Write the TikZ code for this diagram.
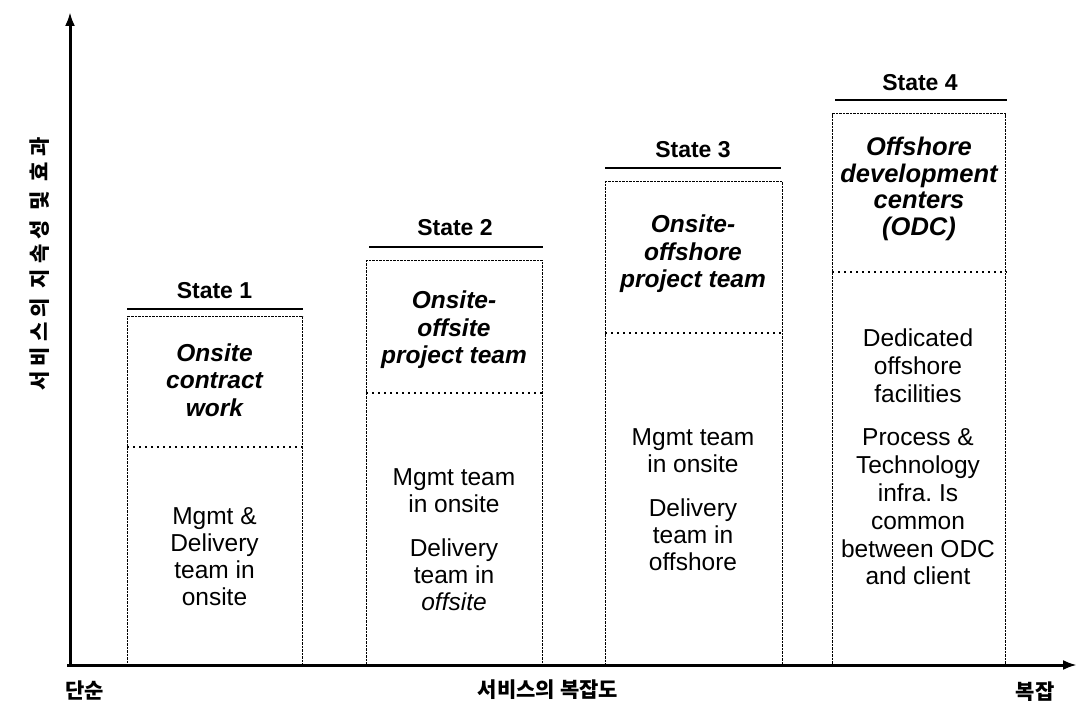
\documentclass[tikz,border=0pt]{standalone}
\usepackage{fontspec}
\setmainfont{Liberation Sans}
\newfontfamily\kr{Noto Sans CJK KR}
\newfontfamily\krsp{Noto Sans CJK KR}[LetterSpace=24]
\usetikzlibrary{arrows.meta,calc}
\tikzset{
  axis/.style={line width=3pt,-{Latex[length=14pt,width=10pt]}},
  box/.style={draw, line width=1.3pt, dash pattern=on 2.5pt off 1pt, inner sep=0pt, anchor=north west},
  hdr/.style={line width=2.2pt},
  divline/.style={line width=1.3pt, dash pattern=on 1.5pt off 4.5pt},
  sttl/.style={font=\fontsize{23}{27}\selectfont\bfseries, inner sep=0pt},
  ttl/.style={font=\fontsize{24.5}{27.5}\selectfont\bfseries\itshape, align=center, inner sep=0pt},
  body/.style={font=\fontsize{24.5}{27}\selectfont, align=center, inner sep=0pt},
  krl/.style={font=\fontsize{21}{25}\selectfont\kr\bfseries, inner sep=0pt}
}
\begin{document}
\begin{tikzpicture}[x=1pt,y=-1pt]
\useasboundingbox (0,0) rectangle (1080,708);
% axes
\coordinate (O) at (70,665);
\coordinate (Ytop) at (70,12);
\coordinate (Xend) at (1077,665);
\draw[axis] (O) -- (Ytop);
\draw[axis] ($(O)+(-3,0)$) -- (Xend);
% boxes
\node[box, minimum width=175pt, minimum height=349pt] (b1) at (127,316) {};
\node[box, minimum width=176pt, minimum height=405pt] (b2) at (366,260) {};
\node[box, minimum width=177pt, minimum height=484pt] (b3) at (605,181) {};
\node[box, minimum width=173pt, minimum height=552pt] (b4) at (832,113) {};
% header lines
\draw[hdr] ($(b1.north west)+(0,-7)$) -- ($(b1.north east)+(0,-7)$);
\draw[hdr] ($(b2.north west)+(3,-13)$) -- ($(b2.north east)+(0,-13)$);
\draw[hdr] ($(b3.north west)+(0,-13)$) -- ($(b3.north east)+(-2,-13)$);
\draw[hdr] ($(b4.north west)+(3,-13)$) -- ($(b4.north east)+(1,-13)$);
% state titles
\node[sttl] (s1) at (214.5,291) {State 1};
\node[sttl] (s2) at (455,228) {State 2};
\node[sttl] (s3) at (693,150) {State 3};
\node[sttl] (s4) at (920,83) {State 4};
% dividers
\coordinate (d1) at (0,447);
\coordinate (d2) at (0,393);
\coordinate (d3) at (0,333);
\coordinate (d4) at (0,272);
\draw[divline] (b1.west |- d1) -- (b1.east |- d1);
\draw[divline] (b2.west |- d2) -- (b2.east |- d2);
\draw[divline] (b3.west |- d3) -- (b3.east |- d3);
\draw[divline] (b4.west |- d4) -- (b4.east |- d4);
% upper italic titles
\node[ttl] (t1) at (214.5,380) {Onsite\\contract\\work};
\node[ttl] (t2) at (454,330) {Onsite-\\offsite\\project team};
\node[ttl] (t3) at (693,254) {Onsite-\\offshore\\project team};
\node[ttl, font=\fontsize{25.5}{26.5}\selectfont\bfseries\itshape] (t4) at (919,189) {Offshore\\development\\centers\\(ODC)};
% bodies
\node[body] (m1) at (214.5,557) {Mgmt \&\\Delivery\\team in\\onsite};
\node[body] (m2) at (454,540) {Mgmt team\\in onsite\\[17pt]Delivery\\team in\\\textit{offsite}};
\node[body] (m3) at (693,500) {Mgmt team\\in onsite\\[17pt]Delivery\\team in\\offshore};
\node[body, font=\fontsize{24.5}{27.8}\selectfont] (m4) at (918,457) {Dedicated\\offshore\\facilities\\[16pt]Process \&\\Technology\\infra.\ Is\\common\\between ODC\\and client};
% axis labels
\node[krl] (xl) at (85,690) {단순};
\node[krl] (xm) at (548,690) {서비스의 복잡도};
\node[krl] (xr) at (1035,692) {복잡};
\node[font=\fontsize{21}{25}\selectfont\krsp\bfseries, inner sep=0pt, rotate=90] (yl) at (40,264) {서비스의 지속성 및 효과};
\end{tikzpicture}
\end{document}
